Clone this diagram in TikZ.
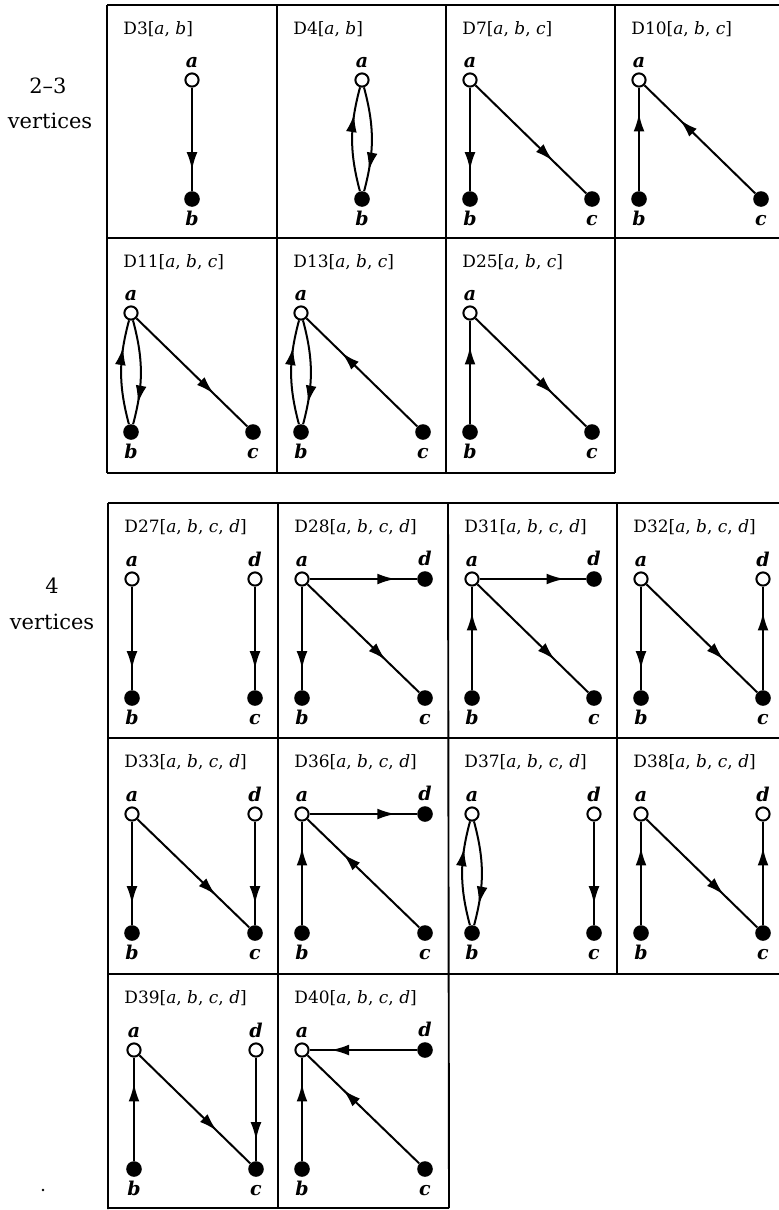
\documentclass[tikz,border=0pt]{standalone}
\usepackage{fontspec}
\setmainfont{DejaVu Serif}
\usetikzlibrary{arrows.meta,decorations.markings}

\tikzset{
  grid/.style={line width=0.95pt},
  ov/.style={circle,draw,fill=white,line width=1pt,minimum size=6.6pt,inner sep=0pt},
  fv/.style={circle,fill=black,minimum size=7.8pt,inner sep=0pt},
  lab/.style={font=\fontsize{9.5}{11}\selectfont\bfseries\itshape,inner sep=0pt,text height=6.5pt,text depth=0pt},
  ttl/.style={font=\fontsize{8.5}{10}\selectfont,anchor=base west,inner sep=0pt},
  side/.style={font=\fontsize{10.5}{12}\selectfont,anchor=base,inner sep=0pt},
  edge/.style={line width=1pt,
    decoration={markings,mark=at position #1 with {\arrow{Latex[length=9pt,width=5.4pt]}}},
    postaction={decorate}},
  edge/.default=0.8,
  diag/.style={edge=0.7},
  diagup/.style={edge=0.68},
  up/.style={edge=0.75},
}

% open and filled vertices: name, position, label text, label side
\newcommand\openv[4]{\node[ov,label={[lab]#4:#3}] (#1) at (#2) {};}
\newcommand\fullv[4]{\node[fv,label={[lab]#4:#3}] (#1) at (#2) {};}

\begin{document}
\begin{tikzpicture}[x=0.5pt,y=-0.5pt,label distance=2.4pt]
\useasboundingbox (0,0) rectangle (779,1210);

% ---------- table of 2-3 vertex digraphs ----------
\draw[grid] (107,5) -- (779,5) (107,238) -- (779,238) (107,473) -- (615,473);
\draw[grid] (107,5) -- (107,473) (277,5) -- (277,473) (446,5) -- (446,473) (615,5) -- (615,473);

\node[side] (s1) at (48,93) {2--3};
\node[side] (s2) at (50,128) {vertices};

% D3
\node[ttl] (t3) at (123,34) {D3[\textit{a}, \textit{b}]};
\openv{d3a}{192,80}{a}{above}
\fullv{d3b}{192,199}{b}{below}
\draw[edge] (d3a) -- (d3b);

% D4
\node[ttl] (t4) at (293,34) {D4[\textit{a}, \textit{b}]};
\openv{d4a}{362,80}{a}{above}
\fullv{d4b}{362,199}{b}{below}
\draw[edge=0.74] (d4b) to[bend left=15] (d4a);
\draw[edge=0.8] (d4a) to[bend left=15] (d4b);

% D7
\node[ttl] (t7) at (462,34) {D7[\textit{a}, \textit{b}, \textit{c}]};
\openv{d7a}{470,80}{a}{above}
\fullv{d7b}{470,199}{b}{below}
\fullv{d7c}{592,199}{c}{below}
\draw[edge] (d7a) -- (d7b);
\draw[diag] (d7a) -- (d7c);

% D10
\node[ttl] (t10) at (631,34) {D10[\textit{a}, \textit{b}, \textit{c}]};
\openv{d10a}{639,80}{a}{above}
\fullv{d10b}{639,199}{b}{below}
\fullv{d10c}{761,199}{c}{below}
\draw[up] (d10b) -- (d10a);
\draw[diagup] (d10c) -- (d10a);

% D11
\node[ttl] (t11) at (123,267) {D11[\textit{a}, \textit{b}, \textit{c}]};
\openv{d11a}{131,313}{a}{above}
\fullv{d11b}{131,432}{b}{below}
\fullv{d11c}{253,432}{c}{below}
\draw[edge=0.74] (d11b) to[bend left=15] (d11a);
\draw[edge=0.8] (d11a) to[bend left=15] (d11b);
\draw[diag] (d11a) -- (d11c);

% D13
\node[ttl] (t13) at (293,267) {D13[\textit{a}, \textit{b}, \textit{c}]};
\openv{d13a}{301,313}{a}{above}
\fullv{d13b}{301,432}{b}{below}
\fullv{d13c}{423,432}{c}{below}
\draw[edge=0.74] (d13b) to[bend left=15] (d13a);
\draw[edge=0.8] (d13a) to[bend left=15] (d13b);
\draw[diagup] (d13c) -- (d13a);

% D25
\node[ttl] (t25) at (462,267) {D25[\textit{a}, \textit{b}, \textit{c}]};
\openv{d25a}{470,313}{a}{above}
\fullv{d25b}{470,432}{b}{below}
\fullv{d25c}{592,432}{c}{below}
\draw[up] (d25b) -- (d25a);
\draw[diag] (d25a) -- (d25c);

% ---------- table of 4 vertex digraphs ----------
\draw[grid] (108,503) -- (779,503) (108,738) -- (779,738) (108,974) -- (779,974) (108,1208) -- (449,1208);
\draw[grid] (108,503) -- (108,1209) (278,503) -- (278,1208) (448,503) -- (449,1208) (617,503) -- (617,974);

\node[side] (s3) at (52,593) {4};
\node[side] (s4) at (52,629) {vertices};

% D27
\node[ttl] (t27) at (124,532) {D27[\textit{a}, \textit{b}, \textit{c}, \textit{d}]};
\openv{d27a}{132,579}{a}{above}
\openv{d27d}{255,579}{d}{above}
\fullv{d27b}{132,698}{b}{below}
\fullv{d27c}{255,698}{c}{below}
\draw[edge] (d27a) -- (d27b);
\draw[edge] (d27d) -- (d27c);

% D28
\node[ttl] (t28) at (294,532) {D28[\textit{a}, \textit{b}, \textit{c}, \textit{d}]};
\openv{d28a}{302,579}{a}{above}
\fullv{d28d}{425,579}{d}{above}
\fullv{d28b}{302,698}{b}{below}
\fullv{d28c}{425,698}{c}{below}
\draw[edge] (d28a) -- (d28d);
\draw[edge] (d28a) -- (d28b);
\draw[diag] (d28a) -- (d28c);

% D31
\node[ttl] (t31) at (464,532) {D31[\textit{a}, \textit{b}, \textit{c}, \textit{d}]};
\openv{d31a}{472,579}{a}{above}
\fullv{d31d}{594,579}{d}{above}
\fullv{d31b}{472,698}{b}{below}
\fullv{d31c}{594,698}{c}{below}
\draw[edge] (d31a) -- (d31d);
\draw[up] (d31b) -- (d31a);
\draw[diag] (d31a) -- (d31c);

% D32
\node[ttl] (t32) at (633,532) {D32[\textit{a}, \textit{b}, \textit{c}, \textit{d}]};
\openv{d32a}{641,579}{a}{above}
\openv{d32d}{763,579}{d}{above}
\fullv{d32b}{641,698}{b}{below}
\fullv{d32c}{763,698}{c}{below}
\draw[edge] (d32a) -- (d32b);
\draw[diag] (d32a) -- (d32c);
\draw[up] (d32c) -- (d32d);

% D33
\node[ttl] (t33) at (124,767) {D33[\textit{a}, \textit{b}, \textit{c}, \textit{d}]};
\openv{d33a}{132,814}{a}{above}
\openv{d33d}{255,814}{d}{above}
\fullv{d33b}{132,933}{b}{below}
\fullv{d33c}{255,933}{c}{below}
\draw[edge] (d33a) -- (d33b);
\draw[diag] (d33a) -- (d33c);
\draw[edge] (d33d) -- (d33c);

% D36
\node[ttl] (t36) at (294,767) {D36[\textit{a}, \textit{b}, \textit{c}, \textit{d}]};
\openv{d36a}{302,814}{a}{above}
\fullv{d36d}{425,814}{d}{above}
\fullv{d36b}{302,933}{b}{below}
\fullv{d36c}{425,933}{c}{below}
\draw[edge] (d36a) -- (d36d);
\draw[up] (d36b) -- (d36a);
\draw[diagup] (d36c) -- (d36a);

% D37
\node[ttl] (t37) at (464,767) {D37[\textit{a}, \textit{b}, \textit{c}, \textit{d}]};
\openv{d37a}{472,814}{a}{above}
\openv{d37d}{594,814}{d}{above}
\fullv{d37b}{472,933}{b}{below}
\fullv{d37c}{594,933}{c}{below}
\draw[edge=0.74] (d37b) to[bend left=15] (d37a);
\draw[edge=0.8] (d37a) to[bend left=15] (d37b);
\draw[edge] (d37d) -- (d37c);

% D38
\node[ttl] (t38) at (633,767) {D38[\textit{a}, \textit{b}, \textit{c}, \textit{d}]};
\openv{d38a}{641,814}{a}{above}
\openv{d38d}{763,814}{d}{above}
\fullv{d38b}{641,933}{b}{below}
\fullv{d38c}{763,933}{c}{below}
\draw[up] (d38b) -- (d38a);
\draw[diag] (d38a) -- (d38c);
\draw[up] (d38c) -- (d38d);

% D39
\node[ttl] (t39) at (124,1003) {D39[\textit{a}, \textit{b}, \textit{c}, \textit{d}]};
\openv{d39a}{134,1050}{a}{above}
\openv{d39d}{256,1050}{d}{above}
\fullv{d39b}{134,1169}{b}{below}
\fullv{d39c}{256,1169}{c}{below}
\draw[up] (d39b) -- (d39a);
\draw[diag] (d39a) -- (d39c);
\draw[edge] (d39d) -- (d39c);

% D40
\node[ttl] (t40) at (294,1003) {D40[\textit{a}, \textit{b}, \textit{c}, \textit{d}]};
\openv{d40a}{302,1050}{a}{above}
\fullv{d40d}{425,1050}{d}{above}
\fullv{d40b}{302,1169}{b}{below}
\fullv{d40c}{425,1169}{c}{below}
\draw[edge] (d40d) -- (d40a);
\draw[up] (d40b) -- (d40a);
\draw[diagup] (d40c) -- (d40a);

% stray mark at the lower left
\fill (43,1190) circle (1.3);
\end{tikzpicture}
\end{document}
